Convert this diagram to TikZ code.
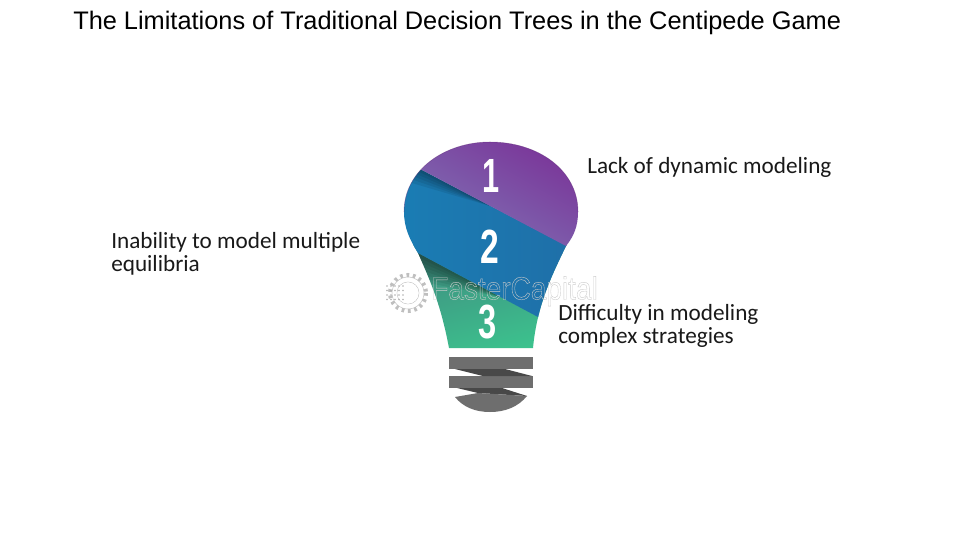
\documentclass[tikz,border=0pt]{standalone}
\usepackage{fontspec}
\setmainfont{Liberation Sans}
\newfontfamily\carl{Carlito}
\usetikzlibrary{shadings}
\definecolor{pLight}{HTML}{7F78B8}
\definecolor{pDark}{HTML}{7A3498}
\definecolor{bLeft}{HTML}{1A7DB4}
\definecolor{bRight}{HTML}{1F6FA8}
\definecolor{gBot}{HTML}{3CC48E}
\definecolor{gTop}{HTML}{3F8C80}
\definecolor{screw}{HTML}{6E6E6E}
\definecolor{screwDark}{HTML}{484848}
\tikzset{
  label text/.style={font=\carl\fontsize{17.4}{17.7}\selectfont,anchor=north west,align=left,inner sep=0pt,text=black!90},
  numeral/.style={font=\bfseries\fontsize{36}{36}\selectfont,text=white,inner sep=0pt},
  mark text/.style={font=\fontsize{24}{24}\selectfont,inner sep=0pt,text depth=0pt}
}
\newcommand{\bulbpath}{(449,348) .. controls (441,305) and (430,280) .. (418,253)
  .. controls (410,240) and (404,228) .. (404,212)
  .. controls (404,170) and (445,142) .. (490,142)
  .. controls (538,142) and (578,170) .. (578,212)
  .. controls (578,226) and (574,236) .. (566,246)
  .. controls (552,275) and (537,305) .. (533,348) -- cycle}
\begin{document}
\begin{tikzpicture}[x=0.75pt,y=-0.75pt]
\useasboundingbox (0,0) rectangle (980,550);
\fill[white] (0,0) rectangle (980,550);
\node[anchor=west,inner sep=0pt,font=\fontsize{19.02}{20}\selectfont] (title) at (73,23) {The Limitations of Traditional Decision Trees in the Centipede Game};
\begin{scope}
  \clip \bulbpath;
  % green, bright at the lower left, darker towards the band above
  \shade[top color=gTop,bottom color=gBot,shading angle=15] (400,245) rectangle (580,352);
  % soft dark fold under band 2
  \foreach \d in {4,8,...,28}{
    \fill[black,opacity=.07] (418,253) -- (500,297) -- (418,253+\d) -- cycle;}
  % blue band
  \shade[left color=bLeft,right color=bRight] (395,165.5) -- (422,170) -- (575,250) -- (575,330) -- (538,317) -- (418,253) -- (395,240) -- cycle;
  % soft dark fold under band 1
  \foreach \d in {4,8,...,20}{
    \fill[black,opacity=.08] (405,161) -- (490,206) -- (405,161+\d) -- cycle;}
  % purple, light along its lower edge, dark at the upper right
  \begin{scope}
    \clip (395,125) -- (595,125) -- (595,261) -- (566,246) -- (422,170) -- (395,156) -- cycle;
    \shade[top color=pDark,bottom color=pLight,shading angle=-30] (400,135) rectangle (585,255);
  \end{scope}
\end{scope}
\draw[pDark!80!black,line width=.4pt,opacity=.5] (404,212) .. controls (404,170) and (445,142) .. (490,142)
  .. controls (538,142) and (578,170) .. (578,212);
% screw
\fill[screw] (449,357) rectangle (533,369);
\fill[screw] (449,376) rectangle (533,388);
\fill[screwDark] (455,369) -- (505,369) -- (532,376) -- (483,376) -- cycle;
\fill[screwDark] (457,388) -- (502,388) -- (527,396) -- (478,393) -- cycle;
\fill[screw] (455,397) -- (478,393) -- (527,396)
  .. controls (518,407) and (505,412) .. (490,412) .. controls (475,412) and (463,407) .. (455,397) -- cycle;
% numerals
\node[numeral] (n1) at (491,176) {\scalebox{.64}[1]{1}};
\node[numeral] (n2) at (490,247) {\scalebox{.7}[1]{2}};
\node[numeral] (n3) at (488,322) {\scalebox{.68}[1]{3}};
% labels
\node[label text] (l1) at (587,157) {Lack of dynamic modeling};
\node[label text] (l2) at (111,232) {Inability to model multiple\\equilibria};
\node[label text] (l3) at (558,304) {Difficulty in modeling\\complex strategies};
% watermark
\node[mark text,anchor=base west,text=black!30] (wm) at (431,299.5) {\special{pdf:code q 1 Tr 0.3 w 0.8 G}\scalebox{.875}[1]{FasterCapital}\special{pdf:code Q}};
\draw[black!22,line width=.4pt] (408,293) circle (11);
\draw[black!22,line width=.4pt] (408,293) circle (16);
\draw[black!25,line width=3pt,dash pattern=on 2pt off 2.8pt] (408,293) circle (18);
\fill[white] (408,293) circle (10.5);
\foreach \i in {0,...,4}{\foreach \j in {0,1,2,3}{
  \fill[black!30] (387+\i*4,286+\j*4.5) circle (.8);}}
\end{tikzpicture}
\end{document}
